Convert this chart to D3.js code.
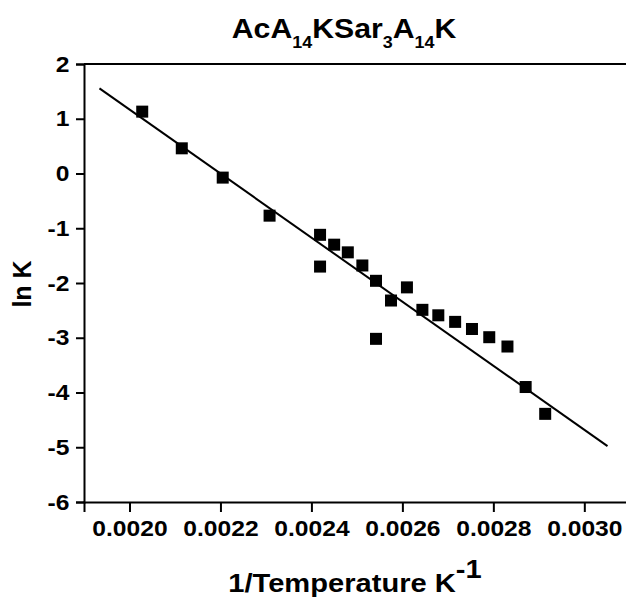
<!DOCTYPE html>
<html>
<head>
<meta charset="utf-8">
<script src="https://cdn.jsdelivr.net/npm/d3@7"></script>
<style>
  body { margin: 0; background: #fff; }
  text { font-family: "Liberation Sans", Arial, sans-serif; font-weight: bold; fill: #000; }
</style>
</head>
<body>
<div id="chart"></div>
<script>
// measured points: 1/T (K^-1) and ln K
const invT = [0.002028, 0.002115, 0.002205, 0.002308, 0.002419, 0.002419, 0.00245, 0.00248,
              0.002512, 0.002542, 0.002542, 0.002575, 0.00261, 0.002644, 0.002679, 0.002716,
              0.002753, 0.002791, 0.002831, 0.002871, 0.002914];
const lnK  = [1.13, 0.46, -0.075, -0.77, -1.12, -1.70, -1.30, -1.44,
              -1.68, -1.96, -3.02, -2.32, -2.08, -2.49, -2.59, -2.71,
              -2.84, -2.99, -3.16, -3.90, -4.39];
// fitted line end points
const fitX = [0.001934, 0.003051];
const fitY = [1.556, -4.98];
const xTicks = [0.0020, 0.0022, 0.0024, 0.0026, 0.0028, 0.0030];
const yTicks = [-6, -5, -4, -3, -2, -1, 0, 1, 2];

const width = 626, height = 599;
const plot = {left: 84, right: 629.8, top: 64, bottom: 502};
const stretch = "scale(1.12,1)"; // type in the original is a bit wider than Arial

let x = d3.scaleLinear().domain([0.0019, 0.0031]).range([plot.left, plot.right]),
    y = d3.scaleLinear().domain([-6, 2]).range([plot.bottom, plot.top]);

const svg = d3.select("#chart")
  .append("svg")
  .attr("width", width)
  .attr("height", height);

// frame (top + right, right falls just outside the view)
svg.append("path")
  .attr("d", "M" + plot.left + "," + plot.top + "H" + plot.right + "V" + plot.bottom)
  .attr("fill", "none")
  .attr("stroke", "#000")
  .attr("stroke-width", 2);

// axes
const yAxis = svg.append("g")
  .attr("transform", "translate(" + plot.left + ",0)")
  .call(d3.axisLeft(y).tickValues(yTicks).tickSize(8).tickPadding(5).tickFormat(d => String(d)));

const xAxis = svg.append("g")
  .attr("transform", "translate(0," + plot.bottom + ")")
  .call(d3.axisBottom(x).tickValues(xTicks).tickSize(10).tickPadding(8).tickFormat(d3.format(".4f")));

[yAxis, xAxis].forEach(g => {
  g.select(".domain").attr("stroke-width", 2);
  g.selectAll(".tick line").attr("stroke-width", 2);
  g.selectAll("text")
    .attr("font-size", 22)
    .attr("font-family", null)
    .attr("transform", stretch);
});

// fit line
svg.append("line")
  .attr("x1", x(fitX[0])).attr("y1", y(fitY[0]))
  .attr("x2", x(fitX[1])).attr("y2", y(fitY[1]))
  .attr("stroke", "#000")
  .attr("stroke-width", 2);

// points
const sq = 12;
svg.selectAll(".pt")
  .data(invT.map((d, i) => ({t: d, k: lnK[i]})))
  .enter()
  .append("rect")
  .attr("class", "pt")
  .attr("x", d => x(d.t) - sq / 2)
  .attr("y", d => y(d.k) - sq / 2)
  .attr("width", sq)
  .attr("height", sq)
  .attr("fill", "#000");

// title with subscripts
const title = svg.append("g")
  .attr("transform", "translate(344,38) " + stretch)
  .append("text")
  .attr("text-anchor", "middle")
  .attr("font-size", 27);
[["AcA", 0], ["14", 1], ["KSar", 0], ["3", 1], ["A", 0], ["14", 1], ["K", 0]].forEach(p => {
  title.append("tspan")
    .attr("font-size", p[1] ? 16 : 27)
    .attr("baseline-shift", p[1] ? "-65%" : null)
    .text(p[0]);
});

// y label
svg.append("text")
  .attr("transform", "translate(31,284) rotate(-90)")
  .attr("text-anchor", "middle")
  .attr("font-size", 25)
  .text("ln K");

// x label
const xl = svg.append("g")
  .attr("transform", "translate(355,592) " + stretch)
  .append("text")
  .attr("text-anchor", "middle")
  .attr("font-size", 26);
xl.append("tspan").text("1/Temperature K");
xl.append("tspan").attr("baseline-shift", "super").text("-1");
</script>
</body>
</html>
